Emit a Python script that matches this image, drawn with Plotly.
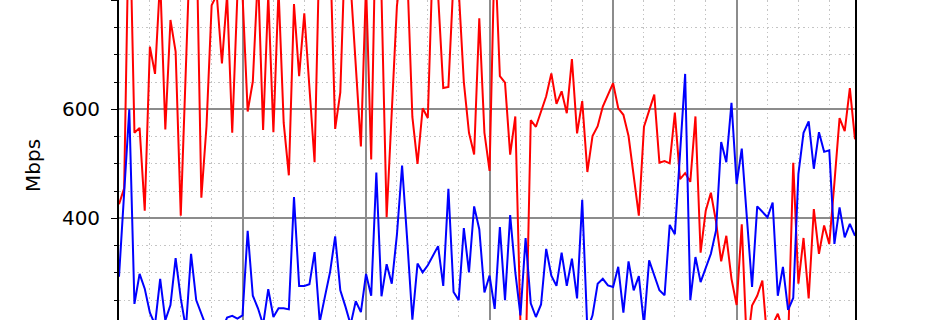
import plotly.graph_objects as go

# hourly samples over six days
hours = list(range(144))

red_mbps = [
    426, 455, 1000, 557, 566, 414, 715, 665, 840, 563,
    764, 706, 405, 680, 950, 950, 438, 569, 791, 810,
    684, 810, 557, 810, 810, 596, 651, 850, 562, 810,
    558, 820, 575, 479, 793, 661, 776, 640, 503, 920,
    870, 900, 564, 631, 920, 830, 690, 532, 830, 508,
    1000, 810, 402, 600, 790, 870, 853, 586, 500, 602,
    584, 890, 810, 639, 641, 840, 820, 650, 557, 517,
    767, 557, 487, 900, 661, 649, 517, 587, 205, 130,
    580, 568, 596, 624, 666, 610, 633, 593, 692, 556,
    615, 485, 551, 569, 605, 627, 648, 602, 590, 551,
    478, 405, 568, 599, 627, 502, 505, 501, 594, 472,
    483, 467, 587, 337, 414, 447, 394, 321, 368, 289,
    241, 389, 160, 240, 258, 286, 170, 205, 225, 195,
    170, 502, 280, 364, 253, 417, 335, 387, 353, 465,
    584, 560, 639, 545,
]

blue_mbps = [
    293, 445, 600, 243, 298, 271, 227, 205, 289, 213,
    241, 327, 253, 198, 335, 250, 225, 200, 185, 200,
    195, 218, 221, 216, 222, 377, 258, 235, 205, 270,
    219, 235, 235, 233, 439, 276, 276, 279, 338, 210,
    256, 301, 367, 268, 238, 205, 248, 228, 298, 258,
    484, 257, 316, 280, 370, 497, 360, 214, 317, 301,
    314, 332, 349, 276, 454, 265, 250, 382, 301, 422,
    380, 264, 295, 234, 384, 250, 406, 301, 222, 364,
    244, 219, 242, 344, 295, 276, 337, 276, 326, 253,
    434, 195, 222, 280, 289, 277, 274, 311, 227, 321,
    268, 294, 205, 323, 295, 268, 259, 388, 371, 520,
    665, 250, 329, 283, 311, 335, 378, 540, 503, 612,
    463, 528, 400, 274, 422, 411, 402, 429, 258, 311,
    232, 254, 481, 557, 578, 491, 558, 522, 525, 353,
    420, 365, 390, 368,
]

y_label = "Mbps"

fig = go.Figure()
fig.add_trace(go.Scatter(x=hours, y=red_mbps, mode="lines",
                         line=dict(color="#ff0000", width=2), showlegend=False))
fig.add_trace(go.Scatter(x=hours, y=blue_mbps, mode="lines",
                         line=dict(color="#0000ff", width=2), showlegend=False))

font = "DejaVu Sans"
minor_dash = "1.5px,3px"

fig.update_layout(
    width=950, height=320, autosize=False,
    margin=dict(l=119, r=95, t=0, b=0, pad=0),
    paper_bgcolor="white", plot_bgcolor="white",
    font=dict(family=font, size=20, color="black"),
    xaxis=dict(
        range=[0, 143], showticklabels=False, ticks="",
        showline=False, zeroline=False,
        tick0=0, dtick=24,
        showgrid=True, gridcolor="#8c8c8c", gridwidth=1.5,
        minor=dict(dtick=6, tick0=0, showgrid=True, gridcolor="#c4c4c4",
                   gridwidth=1.2, griddash=minor_dash, ticks=""),
    ),
    yaxis=dict(
        range=[213.5, 800.6], tick0=0, dtick=200,
        ticks="outside", ticklen=6, tickwidth=1.3, tickcolor="black",
        showline=True, linecolor="black", linewidth=1.8, mirror=True,
        zeroline=False,
        showgrid=True, gridcolor="#8c8c8c", gridwidth=1.5,
        tickfont=dict(family=font, size=20, color="black"),
        ticklabelstandoff=7,
        minor=dict(dtick=50, tick0=0, showgrid=True, gridcolor="#c4c4c4",
                   gridwidth=1.2, griddash=minor_dash, ticks="outside", ticklen=3.5,
                   tickwidth=1.1, tickcolor="black"),
    ),
    annotations=[dict(
        text=y_label, textangle=-90, showarrow=False,
        xref="paper", yref="paper", x=(33 - 119) / 736, y=1 - 166 / 320,
        xanchor="center", yanchor="middle",
        font=dict(family=font, size=20, color="black"),
    )],
)

fig.write_html("out.html")
